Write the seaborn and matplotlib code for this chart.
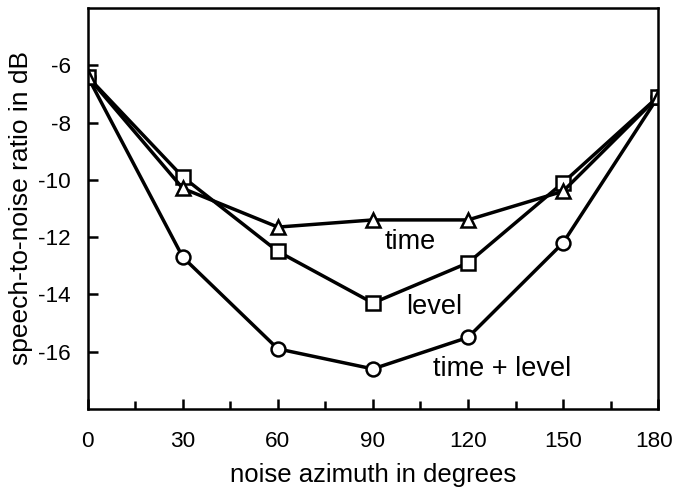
import matplotlib
matplotlib.use("Agg")
import matplotlib.pyplot as plt
import matplotlib.transforms as mtransforms
import seaborn as sns
import pandas as pd

azimuth = [0, 30, 60, 90, 120, 150, 180]
time_only = [-6.4, -10.3, -11.65, -11.4, -11.4, -10.4, -7.1]
level_only = [-6.4, -9.9, -12.5, -14.3, -12.9, -10.1, -7.1]
time_level = [-6.4, -12.7, -15.9, -16.6, -15.5, -12.2, -7.1]
series_names = ["time", "level", "time + level"]

df = pd.concat([
    pd.DataFrame({"azimuth": azimuth, "snr": vals, "cue": name})
    for name, vals in zip(series_names, [time_only, level_only, time_level])
])

sns.set_style("ticks", {"axes.edgecolor": "black", "text.color": "black",
                        "axes.labelcolor": "black", "xtick.color": "black",
                        "ytick.color": "black"})
plt.rcParams["font.family"] = ["Liberation Sans", "DejaVu Sans"]

fig = plt.figure(figsize=(6.75, 4.94), dpi=100)
ax = fig.add_axes([0.130, 0.172, 0.845, 0.812])

sns.lineplot(data=df, x="azimuth", y="snr", hue="cue", style="cue",
             markers={"time": "^", "level": "s", "time + level": "o"},
             dashes=False, palette={n: "black" for n in series_names},
             markersize=10, markerfacecolor="white", markeredgecolor="black",
             markeredgewidth=1.8, linewidth=2.5, legend=False, ax=ax,
             hue_order=["time + level", "level", "time"])

ax.set_xlim(0, 180)
ax.set_ylim(-18, -4)
ax.set_xticks(azimuth)
ax.set_xticks([15, 45, 75, 105, 135, 165], minor=True)
ax.set_yticks([-6, -8, -10, -12, -14, -16])
ax.set_yticklabels(["-6", "-8", "-10", "-12", "-14", "-16"])
ax.tick_params(axis="both", which="major", direction="in", length=7, width=1.8,
               labelsize=16.2, pad=12)
ax.tick_params(axis="x", which="minor", direction="in", length=6, width=1.8)
ax.tick_params(axis="x", which="major", pad=16)
for s in ax.spines.values():
    s.set_linewidth(1.8)
    s.set_visible(True)

# nudge the last x tick label slightly left so it stays inside the figure
last = ax.get_xticklabels()[-1]
last.set_transform(last.get_transform() +
                   mtransforms.ScaledTranslation(-4 / 100, 0, fig.dpi_scale_trans))

ax.set_xlabel("noise azimuth in degrees", fontsize=18.5, labelpad=8)
ax.set_ylabel("speech-to-noise ratio in dB", fontsize=19, labelpad=4)

ax.text(101.7, -12.42, "time", fontsize=19.5, ha="center", va="baseline")
ax.text(109.4, -14.67, "level", fontsize=19.5, ha="center", va="baseline")
ax.text(130.7, -16.84, "time + level", fontsize=19.5, ha="center", va="baseline")

fig.savefig("out.png", dpi=100)
